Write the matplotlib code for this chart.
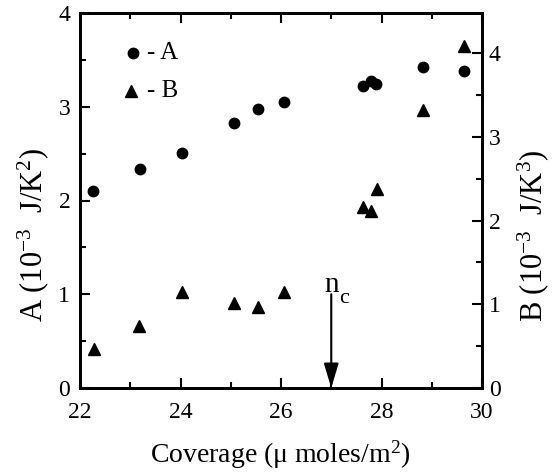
import matplotlib
matplotlib.use("Agg")
import matplotlib.pyplot as plt
from matplotlib.ticker import MultipleLocator

plt.rcParams['font.family'] = ['Liberation Serif', 'DejaVu Serif']
plt.rcParams['mathtext.fontset'] = 'custom'
plt.rcParams['mathtext.rm'] = 'Liberation Serif'
plt.rcParams['mathtext.it'] = 'Liberation Serif:italic'

coverage_A = [22.26, 23.19, 24.02, 25.07, 25.55, 26.05, 27.63, 27.79, 27.89, 28.82, 29.64]
A_values = [2.10, 2.34, 2.51, 2.83, 2.98, 3.05, 3.22, 3.27, 3.24, 3.42, 3.38]
coverage_B = [22.28, 23.18, 24.02, 25.07, 25.55, 26.05, 27.63, 27.80, 27.91, 28.82, 29.64]
B_values = [0.46, 0.74, 1.15, 1.01, 0.97, 1.15, 2.16, 2.11, 2.38, 3.32, 4.09]
n_c = 27.0

W, H = 552, 474
fig = plt.figure(figsize=(W / 100, H / 100), dpi=100)
ax = fig.add_axes([80 / W, 1 - 388 / H, 402 / W, 375 / H])
ax2 = ax.twinx()

ax.plot(coverage_A, A_values, 'o', color='black', markersize=7.5, linestyle='none')
ax2.plot(coverage_B, B_values, '^', color='black', markersize=9, linestyle='none')

ax.set_xlim(22, 30)
ax.set_ylim(0, 4)
ax2.set_ylim(0, 4.48)

fs = 17
ax.xaxis.set_major_locator(MultipleLocator(2))
ax.xaxis.set_minor_locator(MultipleLocator(1))
ax.yaxis.set_major_locator(MultipleLocator(1))
ax.yaxis.set_minor_locator(MultipleLocator(0.5))
ax2.yaxis.set_major_locator(MultipleLocator(1))
ax2.yaxis.set_minor_locator(MultipleLocator(0.5))

for a in (ax, ax2):
    for s in a.spines.values():
        s.set_linewidth(2)
ax.tick_params(which='both', direction='in', top=True, labelsize=fs, width=1.5)
ax.tick_params(axis='x', pad=10)
ax.tick_params(axis='y', pad=7)
ax.tick_params(which='major', length=7)
ax.tick_params(which='minor', length=4)
ax2.tick_params(which='both', direction='in', labelsize=fs, width=1.5, pad=5)
ax2.tick_params(which='major', length=7)
ax2.tick_params(which='minor', length=4)

fig.text(280 / W, 1 - 455 / H, 'Coverage (μ moles/m$^2$)', fontsize=20,
         ha='center', va='center')
fig.text(33 / W, 1 - 235 / H, 'A (10$^{-3}$  J/K$^2$)', fontsize=22,
         rotation=90, ha='center', va='center')
fig.text(533 / W, 1 - 236 / H, 'B (10$^{-3}$  J/K$^3$)', fontsize=22,
         rotation=90, ha='center', va='center')

# legend
ax.plot([23.05], [3.57], 'o', color='black', markersize=7.5)
ax.text(23.33, 3.57, '- A', fontsize=18, va='center', ha='left')
ax.plot([23.01], [3.17], '^', color='black', markersize=9)
ax.text(23.33, 3.17, '- B', fontsize=18, va='center', ha='left')

# n_c arrow
ax.annotate('', xy=(n_c, 0), xytext=(n_c, 1.0),
            arrowprops=dict(arrowstyle='-|>,head_length=1.5,head_width=0.45',
                            color='black', lw=1.5, shrinkA=0, shrinkB=0))
ax.text(n_c, 1.02, 'n', fontsize=21, ha='center', va='baseline')
ax.text(n_c + 0.25, 0.95, 'c', fontsize=16, ha='center', va='center')

fig.savefig('out.png', dpi=100)
